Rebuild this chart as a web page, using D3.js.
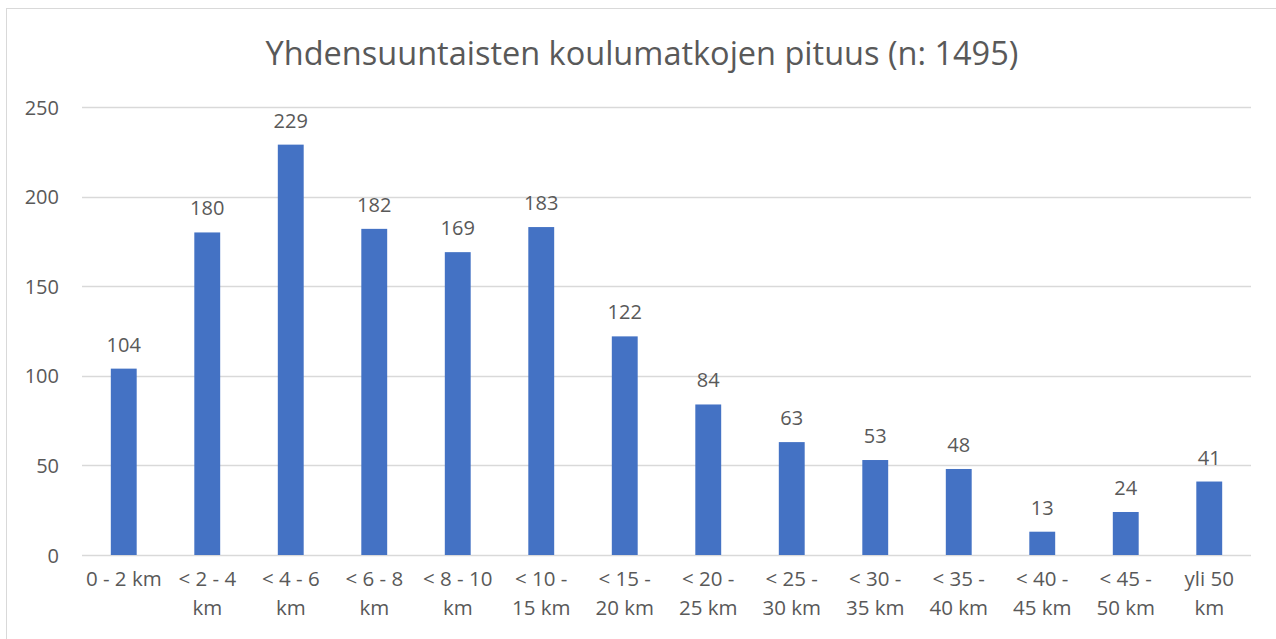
<!DOCTYPE html>
<html>
<head>
<meta charset="utf-8">
<script src="https://cdn.jsdelivr.net/npm/d3@7"></script>
<style>
  body { margin: 0; background: #fff; }
  svg text { font-family: "Open Sans", sans-serif; fill: #595959; }
</style>
</head>
<body>
<div id="chart"></div>
<script>
// Yhdensuuntaisten koulumatkojen pituus
var categories = ["0 - 2 km", "< 2 - 4 km", "< 4 - 6 km", "< 6 - 8 km", "< 8 - 10 km", "< 10 - 15 km",
  "< 15 - 20 km", "< 20 - 25 km", "< 25 - 30 km", "< 30 - 35 km", "< 35 - 40 km", "< 40 - 45 km",
  "< 45 - 50 km", "yli 50 km"];
var counts = [104, 180, 229, 182, 169, 183, 122, 84, 63, 53, 48, 13, 24, 41];
var yTicks = [0, 50, 100, 150, 200, 250];
var chartTitle = "Yhdensuuntaisten koulumatkojen pituus (n: 1495)";

var width = 1276, height = 639;
var plot_left = 82, plot_right = 1251, plot_top = 107, plot_bottom = 555;

var svg = d3.select("#chart")
  .append("svg")
  .attr("width", width)
  .attr("height", height);

// chart frame (runs off the right and bottom edges)
svg.append("rect")
  .attr("x", 6.5)
  .attr("y", 8.5)
  .attr("width", width + 20)
  .attr("height", height + 20)
  .attr("fill", "none")
  .attr("stroke", "#d9d9d9")
  .attr("stroke-width", 1);

svg.append("text")
  .attr("x", 642)
  .attr("y", 65)
  .attr("text-anchor", "middle")
  .style("font-size", "32.5px")
  .text(chartTitle);

var x = d3.scaleBand()
  .domain(categories)
  .range([plot_left, plot_right])
  .paddingInner(0.69)
  .paddingOuter(0.345);

var y = d3.scaleLinear()
  .domain([0, 250])
  .range([plot_bottom, plot_top]);

// gridlines
svg.append("g")
  .selectAll("line")
  .data(yTicks)
  .enter()
  .append("line")
  .attr("x1", plot_left)
  .attr("x2", plot_right)
  .attr("y1", function(d) { return Math.round(y(d)) + 0.5; })
  .attr("y2", function(d) { return Math.round(y(d)) + 0.5; })
  .attr("stroke", "#d9d9d9")
  .attr("stroke-width", 1.5);

// y axis labels
var yAxis = svg.append("g")
  .attr("transform", "translate(" + (plot_left - 23) + ",0)")
  .call(d3.axisLeft(y).tickValues(yTicks).tickSize(0).tickPadding(0));
yAxis.select(".domain").remove();
yAxis.selectAll("text")
  .style("font-size", "20px")
  .attr("fill", null)
  .attr("dy", "0.35em");

// bars
svg.selectAll("myRect")
  .data(counts)
  .enter()
  .append("rect")
  .attr("x", function(d, i) { return x(categories[i]); })
  .attr("y", function(d) { return y(d); })
  .attr("width", x.bandwidth())
  .attr("height", function(d) { return y(0) - y(d); })
  .attr("fill", "#4472c4");

// value labels
svg.selectAll("myLabel")
  .data(counts)
  .enter()
  .append("text")
  .attr("x", function(d, i) { return x(categories[i]) + x.bandwidth() / 2; })
  .attr("y", function(d) { return y(d) - 17; })
  .attr("text-anchor", "middle")
  .style("font-size", "20px")
  .text(function(d) { return d; });

// x axis labels, wrapped to the band step
var xAxis = svg.append("g")
  .attr("transform", "translate(0," + plot_bottom + ")")
  .call(d3.axisBottom(x).tickSize(0).tickPadding(0));
xAxis.select(".domain").remove();
xAxis.selectAll("text")
  .style("font-size", "20.5px")
  .attr("fill", null)
  .attr("y", 31)
  .attr("dy", 0)
  .each(function(d) {
    var el = d3.select(this);
    var words = d.split(" ");
    var maxw = 80;
    var lines = [], cur = [];
    el.text(null);
    var probe = el.append("tspan");
    words.forEach(function(w) {
      var tryLine = cur.concat([w]).join(" ");
      probe.text(tryLine);
      if (cur.length && probe.node().getComputedTextLength() > maxw) {
        lines.push(cur.join(" "));
        cur = [w];
      } else {
        cur.push(w);
      }
    });
    lines.push(cur.join(" "));
    probe.remove();
    lines.forEach(function(l, i) {
      el.append("tspan")
        .attr("x", 0)
        .attr("y", 31 + i * 29)
        .text(l);
    });
  });
</script>
</body>
</html>
